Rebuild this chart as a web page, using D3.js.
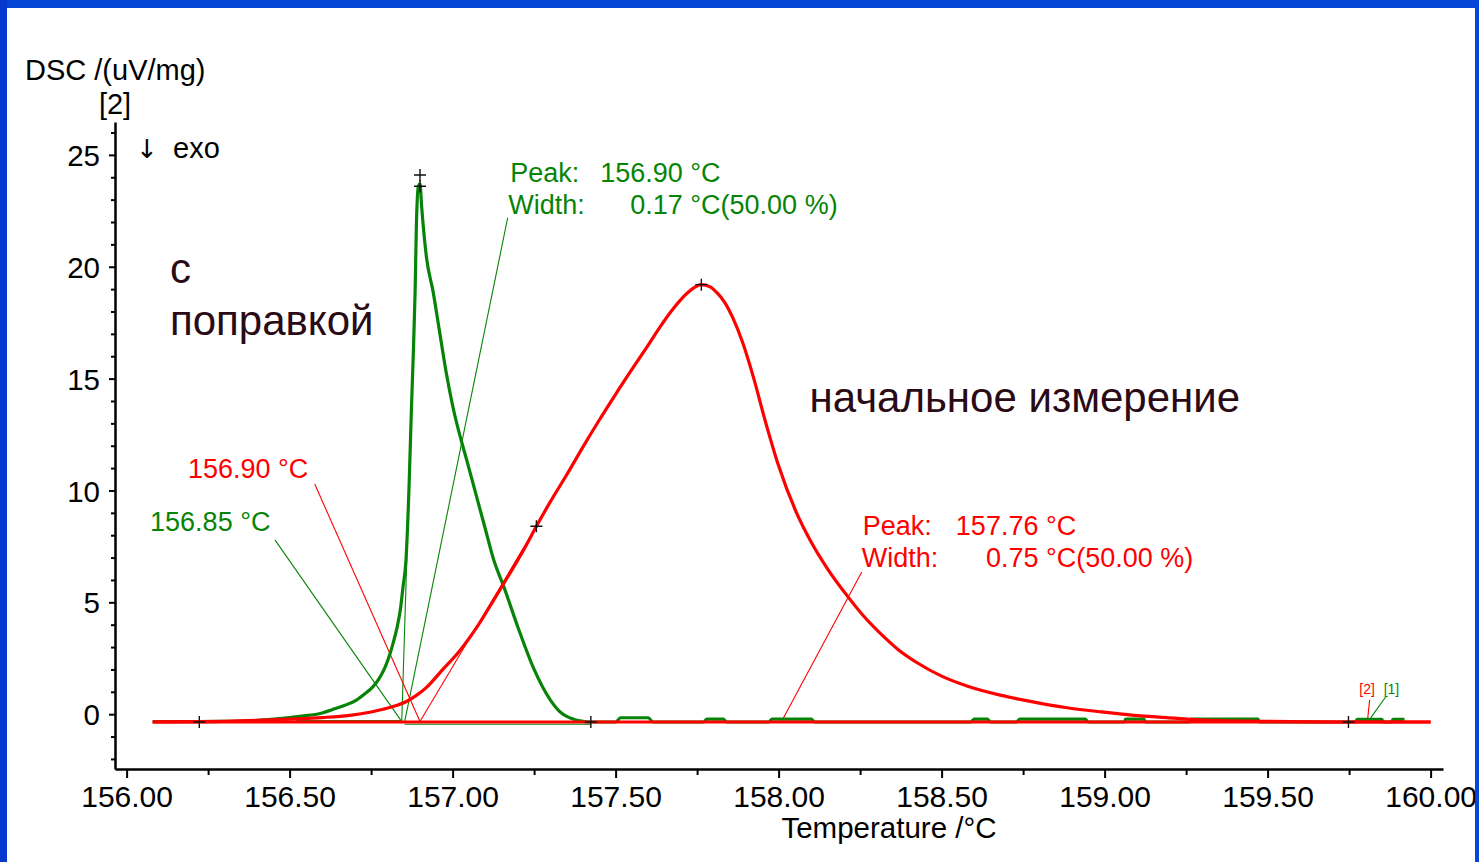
<!DOCTYPE html>
<html>
<head>
<meta charset="utf-8">
<script src="https://cdn.jsdelivr.net/npm/d3@7/dist/d3.min.js"></script>
<style>
  html, body { margin: 0; padding: 0; background: #fff; }
  svg { display: block; }
  text { font-family: "Liberation Sans", Arial, sans-serif; }
</style>
</head>
<body>
<svg id="chart" width="1479" height="862"></svg>
<script>
// ---- DSC curves: temperature (°C) and signal (uV/mg) ----
// [1] corrected measurement (green)
const greenTemp = [156.08, 156.20, 156.30, 156.40, 156.47, 156.53, 156.60, 156.63, 156.67, 156.705,
  156.73, 156.756, 156.775, 156.793, 156.808, 156.818, 156.83, 156.84, 156.848, 156.857,
  156.866, 156.874, 156.879, 156.885, 156.889, 156.895, 156.900, 156.905, 156.92, 156.94,
  156.96, 156.98, 157.00, 157.05, 157.10, 157.126, 157.157, 157.20, 157.25, 157.30,
  157.33, 157.35, 157.39, 157.42, 157.50, 157.515, 157.60, 157.615, 157.77, 157.78,
  157.83, 157.84, 157.97, 157.98, 158.10, 158.11, 158.59, 158.60, 158.64, 158.65,
  158.73, 158.74, 158.94, 158.95, 159.06, 159.065, 159.12, 159.125, 159.26, 159.265,
  159.47, 159.475, 159.77, 159.775, 159.85, 159.855, 159.88, 159.885, 159.92];
const greenSignal = [-0.33, -0.33, -0.32, -0.28, -0.20, -0.10, 0.05, 0.20, 0.40, 0.63,
  0.90, 1.23, 1.60, 2.10, 2.70, 3.20, 3.90, 4.70, 5.70, 6.90,
  10.0, 13.8, 15.9, 18.9, 21.9, 23.6, 23.7, 22.7, 20.4, 18.9,
  17.1, 15.3, 13.8, 11.0, 8.3, 6.9, 5.7, 3.9, 2.0, 0.63,
  0.10, -0.10, -0.30, -0.35, -0.35, -0.16, -0.16, -0.35, -0.35, -0.22,
  -0.22, -0.35, -0.35, -0.22, -0.22, -0.35, -0.35, -0.22, -0.22, -0.35,
  -0.35, -0.22, -0.22, -0.35, -0.35, -0.22, -0.22, -0.35, -0.35, -0.22,
  -0.22, -0.35, -0.35, -0.23, -0.23, -0.35, -0.35, -0.23, -0.23];

// [2] initial measurement (red)
const redTemp = [156.08, 156.30, 156.50, 156.60, 156.685, 156.75, 156.787, 156.83, 156.86, 156.89,
  156.92, 156.97, 157.02, 157.075, 157.126, 157.176, 157.22, 157.257, 157.30, 157.35,
  157.40, 157.45, 157.50, 157.554, 157.60, 157.636, 157.67, 157.698, 157.73, 157.763,
  157.79, 157.81, 157.835, 157.86, 157.89, 157.92, 157.963, 158.00, 158.055, 158.096,
  158.15, 158.21, 158.26, 158.32, 158.37, 158.425, 158.50, 158.58, 158.68, 158.78,
  158.88, 158.99, 159.09, 159.19, 159.29, 159.48, 159.70, 160.00];
const redSignal = [-0.35, -0.32, -0.22, -0.15, -0.05, 0.10, 0.22, 0.40, 0.58, 0.85,
  1.2, 2.0, 2.8, 3.9, 5.1, 6.3, 7.4, 8.4, 9.5, 10.7,
  11.95, 13.15, 14.3, 15.5, 16.5, 17.3, 18.0, 18.5, 18.95, 19.2,
  19.1, 18.85, 18.4, 17.7, 16.6, 15.2, 12.9, 11.1, 9.0, 7.8,
  6.5, 5.3, 4.4, 3.5, 2.85, 2.3, 1.7, 1.25, 0.85, 0.55,
  0.3, 0.1, -0.05, -0.15, -0.25, -0.32, -0.35, -0.35];

// Axis ticks
const xTickValues = d3.range(156.0, 160.001, 0.25);
const xTickLabels = ["156.00", "156.50", "157.00", "157.50", "158.00", "158.50", "159.00", "159.50", "160.00"];
const yTickValues = d3.range(-2, 27, 1);
const yTickLabels = ["0", "5", "10", "15", "20", "25"];

// Evaluation results
const greenPeak = { temp: 156.90, width: 0.17, onset: 156.85 };
const redPeak = { temp: 157.76, width: 0.75, onset: 156.90 };
const baselineLevel = -0.35;
const baselineSpan = [156.08, 160.00];
const integrationLimits = [156.223, 157.424, 159.748];

// ---- layout ----
const svg = d3.select("#chart");
const W = 1479, H = 862;
const x = d3.scaleLinear().domain([155.9644, 160.038]).range([115, 1443]);
const y = d3.scaleLinear().domain([-2.45, 26.47]).range([769, 122]);

const GREEN = "#078407", RED = "#ff0000", INK = "#000", NOTE = "#2a0a14";
const FONT = "'Liberation Sans', Arial, sans-serif";

svg.append("rect").attr("x", 0).attr("y", 0).attr("width", W).attr("height", H).attr("fill", "#fff");

// axes
const yAxis = d3.axisLeft(y).tickValues(yTickValues).tickSize(0).tickFormat("");
const gy = svg.append("g").attr("transform", `translate(${x.range()[0]},0)`).call(yAxis);
gy.select(".domain").attr("stroke", INK).attr("stroke-width", 2.5);
gy.selectAll(".tick line")
  .attr("x2", d => (Math.round(d) % 5 === 0 ? -6 : -4))
  .attr("stroke", INK).attr("stroke-width", 2);
gy.selectAll(".tick").filter(d => d >= 0 && Math.round(d) % 5 === 0)
  .append("text")
  .attr("x", -15).attr("dy", "0.36em")
  .attr("text-anchor", "end").attr("fill", INK)
  .style("font-size", "29.5px").style("font-family", FONT)
  .text(d => yTickLabels[Math.round(d) / 5]);

const xAxis = d3.axisBottom(x).tickValues(xTickValues).tickSize(0).tickFormat("");
const gx = svg.append("g").attr("transform", `translate(0,${y.range()[0]})`).call(xAxis);
gx.select(".domain").attr("stroke", INK).attr("stroke-width", 2.5);
const isMajorX = d => Math.abs(d * 2 - Math.round(d * 2)) < 1e-6;
gx.selectAll(".tick line")
  .attr("y2", d => (isMajorX(d) ? 9 : 6))
  .attr("stroke", INK).attr("stroke-width", 2);
gx.selectAll(".tick").filter(isMajorX)
  .append("text")
  .attr("y", 38).attr("text-anchor", "middle").attr("fill", INK)
  .style("font-size", "30px").style("font-family", FONT)
  .text(d => xTickLabels[Math.round((d - 156) * 2)]);

// axis titles
svg.append("text").attr("x", 25).attr("y", 80).attr("fill", INK)
  .style("font-size", "29px").text("DSC /(uV/mg)");
svg.append("text").attr("x", 115).attr("y", 114).attr("text-anchor", "middle").attr("fill", INK)
  .style("font-size", "29px").text("[2]");
svg.append("text").attr("x", 136).attr("y", 158).attr("fill", INK)
  .style("font-size", "26px").style("font-family", "'DejaVu Sans', sans-serif").text("↓");
svg.append("text").attr("x", 173).attr("y", 158).attr("fill", INK)
  .style("font-size", "29px").text("exo");
svg.append("text").attr("x", 889).attr("y", 838).attr("text-anchor", "middle").attr("fill", INK)
  .style("font-size", "29.5px").text("Temperature /°C");

// ---- construction lines (thin) ----
const thin = (pts, color) => svg.append("path")
  .attr("d", d3.line().x(d => x(d[0])).y(d => y(d[1]))(pts))
  .attr("fill", "none").attr("stroke", color).attr("stroke-width", 1.1);

// green: baseline, onset tangent, leaders
thin([[156.52, -0.28], [greenPeak.onset - 0.006, -0.28]], GREEN);
thin([[greenPeak.onset + 0.003, -0.45], [integrationLimits[1], -0.45]], GREEN);
thin([[greenPeak.onset - 0.006, -0.33], [greenPeak.onset + 0.016, 10.0]], GREEN);
thin([[156.455, 7.79], [greenPeak.onset - 0.006, -0.33]], GREEN);
thin([[157.169, 22.19], [greenPeak.onset + 0.003, -0.33]], GREEN);
thin([[159.862, 0.77], [159.808, -0.33]], GREEN);

// red: onset tangent and leaders
thin([[156.577, 10.29], [redPeak.onset, -0.33]], RED);
thin([[redPeak.onset, -0.33], [157.257, 8.4]], RED);
thin([[158.255, 6.36], [158.009, -0.33]], RED);
thin([[159.813, 0.64], [159.806, -0.33]], RED);

// ---- curves ----
const curve = d3.line().x(d => x(d[0])).y(d => y(d[1])).curve(d3.curveMonotoneX);
svg.append("path").datum(d3.zip(greenTemp, greenSignal))
  .attr("d", curve).attr("fill", "none").attr("stroke", GREEN)
  .attr("stroke-width", 3.2).attr("stroke-linejoin", "round");
// red baseline of measurement [2]
svg.append("path")
  .attr("d", d3.line()([[x(baselineSpan[0]), y(baselineLevel)], [x(baselineSpan[1]), y(baselineLevel)]]))
  .attr("stroke", RED).attr("stroke-width", 3.2);
svg.append("path").datum(d3.zip(redTemp, redSignal))
  .attr("d", curve).attr("fill", "none").attr("stroke", RED)
  .attr("stroke-width", 3.2).attr("stroke-linejoin", "round");

// ---- markers (+) ----
const cross = (t, v, s) => {
  const cx = x(t), cy = y(v);
  svg.append("path")
    .attr("d", `M${cx - s},${cy}H${cx + s}M${cx},${cy - s}V${cy + s}`)
    .attr("stroke", "#111").attr("stroke-width", 1.4).attr("fill", "none");
};
cross(greenPeak.temp, 24.1, 6);
cross(greenPeak.temp, 23.6, 6);
cross(157.763, 19.2, 6);
cross(157.257, 8.4, 6);
integrationLimits.forEach(t => cross(t, baselineLevel, 6));

// ---- annotation text ----
const label = (t, v, txt, color, size, anchor) => svg.append("text")
  .attr("x", x(t)).attr("y", y(v)).attr("fill", color)
  .attr("text-anchor", anchor || "start")
  .style("font-size", size + "px").text(txt);

// green peak evaluation
label(157.177, 23.8, "Peak:", GREEN, 27);
label(157.822, 23.8, `${greenPeak.temp.toFixed(2)} °C`, GREEN, 27, "end");
label(157.171, 22.37, "Width:", GREEN, 27);
label(157.822, 22.37, `${greenPeak.width.toFixed(2)} °C`, GREEN, 27, "end");
label(157.822, 22.37, "(50.00 %)", GREEN, 27);
label(156.072, 8.2, `${greenPeak.onset.toFixed(2)} °C`, GREEN, 27);

// red peak evaluation
label(158.258, 8.01, "Peak:", RED, 27);
label(158.913, 8.01, `${redPeak.temp.toFixed(2)} °C`, RED, 27, "end");
label(158.255, 6.6, "Width:", RED, 27);
label(158.913, 6.6, `${redPeak.width.toFixed(2)} °C`, RED, 27, "end");
label(158.913, 6.6, "(50.00 %)", RED, 27);
label(156.188, 10.56, `${redPeak.onset.toFixed(2)} °C`, RED, 27);

// curve tags
label(159.805, 0.9, "[2]", RED, 14, "middle");
label(159.88, 0.9, "[1]", GREEN, 14, "middle");

// notes
label(156.133, 19.28, "с", NOTE, 42);
label(156.133, 16.96, "поправкой", NOTE, 42);
label(158.095, 13.5, "начальное измерение", NOTE, 42);

// slide frame on top
svg.append("rect").attr("x", 0).attr("y", 0).attr("width", W).attr("height", 8).attr("fill", "#0646d6");
svg.append("rect").attr("x", 0).attr("y", 0).attr("width", 7).attr("height", H).attr("fill", "#0538cc");
svg.append("rect").attr("x", 1475).attr("y", 0).attr("width", 4).attr("height", H).attr("fill", "#0646d6");
</script>
</body>
</html>
